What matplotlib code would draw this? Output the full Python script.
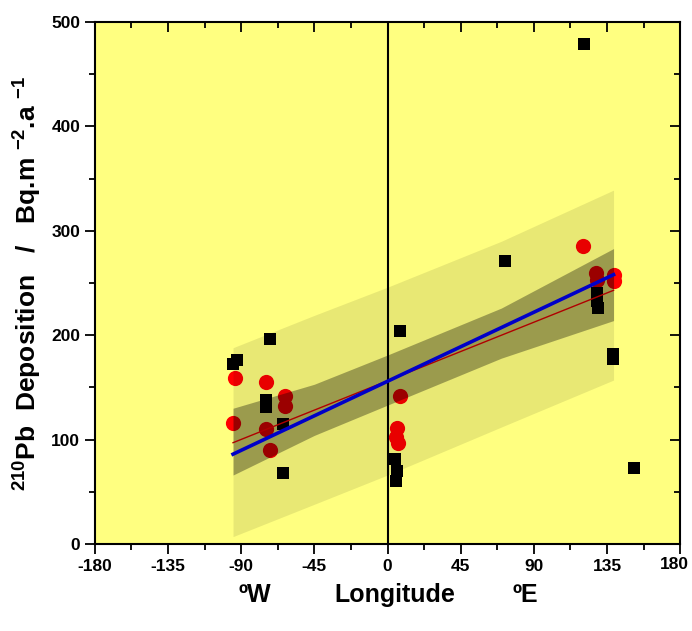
import matplotlib.pyplot as plt
from matplotlib.ticker import MultipleLocator

plt.rcParams['axes.unicode_minus'] = False
plt.rcParams['mathtext.fontset'] = 'custom'
plt.rcParams['mathtext.bf'] = 'Liberation Sans:bold'
plt.rcParams['mathtext.rm'] = 'Liberation Sans:bold'

# black squares
sq_lon = [-95.2, -92.7, -72, -75, -75, -64, -64, 7.7, 4.6, 5.8, 5.2, 72, 121,
          129, 129, 129.5, 138.7, 138.7, 151.6]
sq_val = [172, 176, 196, 138, 131, 115, 68, 204, 81, 70, 60, 271, 479,
          240, 233, 226, 182, 177, 73]

# red circles
ci_lon = [-94, -95, -75, -75, -72, -63, -63, 7.7, 5.8, 5.2, 6.4, 120.3,
          128, 129, 139, 139]
ci_val = [159, 116, 155, 110, 90, 142, 132, 142, 111, 102, 97, 285,
          260, 253, 258, 252]

# fits
blue_lon = [-95, 139]
blue_val = [86, 258]
red_lon = [-95, 139]
red_val = [97, 243]

# bands
band_lon = [-95, -45, 0, 70, 139]
pred_hi = [188, 219, 246, 290, 339]
pred_lo = [7, 38, 66, 112, 157]
conf_hi = [130, 153, 181, 226, 283]
conf_lo = [66, 104, 133, 178, 214]

xticks = [-180, -135, -90, -45, 0, 45, 90, 135, 180]

fig = plt.figure(figsize=(6.92, 6.31), dpi=100)
ax = fig.add_axes([0.137, 0.138, 0.846, 0.827])
ax.set_facecolor('#FFFF80')

ax.scatter(ci_lon, ci_val, s=120, marker='o', color='#FF0000', zorder=2, linewidths=0)
ax.fill_between(band_lon, pred_lo, pred_hi, color='black', alpha=0.09, linewidth=0, zorder=3)
ax.fill_between(band_lon, conf_lo, conf_hi, color='black', alpha=0.33, linewidth=0, zorder=3)
ax.scatter(sq_lon, sq_val, s=80, marker='s', color='black', zorder=4, linewidths=0)
ax.plot(red_lon, red_val, color='#B00000', lw=1.0, zorder=5)
ax.plot(blue_lon, blue_val, color='#0000C8', lw=2.6, zorder=5)
ax.axvline(0, color='black', lw=1.5, zorder=1)

ax.set_xlim(-180, 180)
ax.set_ylim(0, 500)
ax.set_xticks(xticks)
# last label drawn by hand so it is not clipped at the figure edge
ax.set_xticklabels([str(v) for v in xticks[:-1]] + [''])
ax.annotate(str(xticks[-1]), xy=(xticks[-1], 0), xytext=(-4, -9.5),
            textcoords='offset points', ha='center', va='top',
            fontsize=12.5, fontweight='bold', family='Liberation Sans',
            annotation_clip=False)
ax.xaxis.set_minor_locator(MultipleLocator(22.5))
ax.yaxis.set_major_locator(MultipleLocator(100))
ax.yaxis.set_minor_locator(MultipleLocator(50))
ax.tick_params(which='both', direction='out', width=1.3, top=True, right=True)
ax.tick_params(which='major', length=7)
ax.tick_params(which='minor', length=4)
# top and right ticks point inward
for t in ax.xaxis.get_major_ticks() + ax.xaxis.get_minor_ticks():
    t.tick2line.set_marker(3)
for t in ax.yaxis.get_major_ticks() + ax.yaxis.get_minor_ticks():
    t.tick2line.set_marker(0)
for s in ax.spines.values():
    s.set_linewidth(1.5)

for lab in ax.get_xticklabels() + ax.get_yticklabels():
    lab.set_fontfamily('Liberation Sans')
    lab.set_fontweight('bold')
    lab.set_fontsize(12.5)

# x label as three separate words
lab_kw = dict(fontsize=18, fontweight='bold', family='Liberation Sans',
              ha='center', va='center')
fig.text(255 / 692, 1 - 595 / 631, 'ºW', **lab_kw)
fig.text(395 / 692, 1 - 595 / 631, 'Longitude', **lab_kw)
fig.text(525 / 692, 1 - 595 / 631, 'ºE', **lab_kw)

ax.set_ylabel(r'$\mathbf{^{210}}$Pb  Deposition   /   Bq.m $\mathbf{^{-2}}$.a $\mathbf{^{-1}}$',
              fontsize=19, fontweight='bold', family='Liberation Sans', labelpad=5)

fig.savefig('out.png', dpi=100)
